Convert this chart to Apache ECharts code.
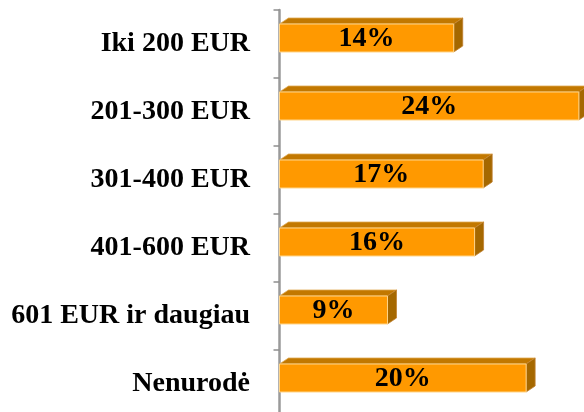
<!DOCTYPE html>
<html>
<head>
<meta charset="utf-8">
<script src="https://cdn.jsdelivr.net/npm/echarts@6/dist/echarts.min.js"></script>
<style>html,body{margin:0;padding:0;background:#fff}#c{width:584px;height:412px}</style>
</head>
<body>
<div id="c"></div>
<script>
const categories = ['Iki 200 EUR', '201-300 EUR', '301-400 EUR', '401-600 EUR', '601 EUR ir daugiau', 'Nenurodė'];
const values = [14.2, 24.4, 16.6, 15.9, 8.8, 20.1];
const valueLabels = ['14%', '24%', '17%', '16%', '9%', '20%'];

const chart = echarts.init(document.getElementById('c'), null, {renderer: 'canvas'});
const DX = 9, DY = 6, H = 28, SHIFT = 6;
chart.setOption({
  animation: false,
  grid: {left: 279.5, top: 10, width: 306.75, height: 408, outerBoundsMode: 'none', containLabel: false},
  xAxis: {type: 'value', min: 0, max: 25, show: false},
  yAxis: {
    type: 'category', data: categories, inverse: true, offset: 7.5,
    axisLine: {show: true, lineStyle: {color: '#9a9a9a', width: 2.5}},
    axisTick: {show: true, length: 6, lineStyle: {color: '#8f8f8f', width: 1.5}},
    axisLabel: {margin: 22, color: '#000', fontFamily: 'Liberation Serif', fontWeight: 'bold', fontSize: 28}
  },
  series: [{
    type: 'custom',
    clip: false,
    data: values.map((v, i) => [v, i]),
    encode: {x: 0, y: 1},
    renderItem: function (params, api) {
      const v = api.value(0), i = api.value(1);
      const p0 = api.coord([0, i]);
      const p1 = api.coord([v, i]);
      const x0 = p0[0], x1 = p1[0];
      const cy = p0[1] - SHIFT;
      const yT = cy - H / 2, yB = cy + H / 2;
      return {
        type: 'group',
        children: [
          {type: 'polygon', shape: {points: [[x0, yT], [x1, yT], [x1 + DX, yT - DY], [x0 + DX, yT - DY]]},
            style: {fill: '#C27800', stroke: '#E0A850', lineWidth: 0.8}},
          {type: 'polygon', shape: {points: [[x1, yT], [x1 + DX, yT - DY], [x1 + DX, yB - DY], [x1, yB]]},
            style: {fill: '#A56800', stroke: '#C08030', lineWidth: 0.8}},
          {type: 'rect', shape: {x: x0, y: yT, width: x1 - x0, height: H},
            style: {fill: '#FF9900', stroke: '#FFD58A', lineWidth: 1}},
          {type: 'text', style: {x: (x0 + x1) / 2, y: cy + 1, text: valueLabels[i], align: 'center', verticalAlign: 'middle',
            fill: '#000', font: 'bold 28px "Liberation Serif"'}}
        ]
      };
    }
  }]
});
</script>
</body>
</html>
